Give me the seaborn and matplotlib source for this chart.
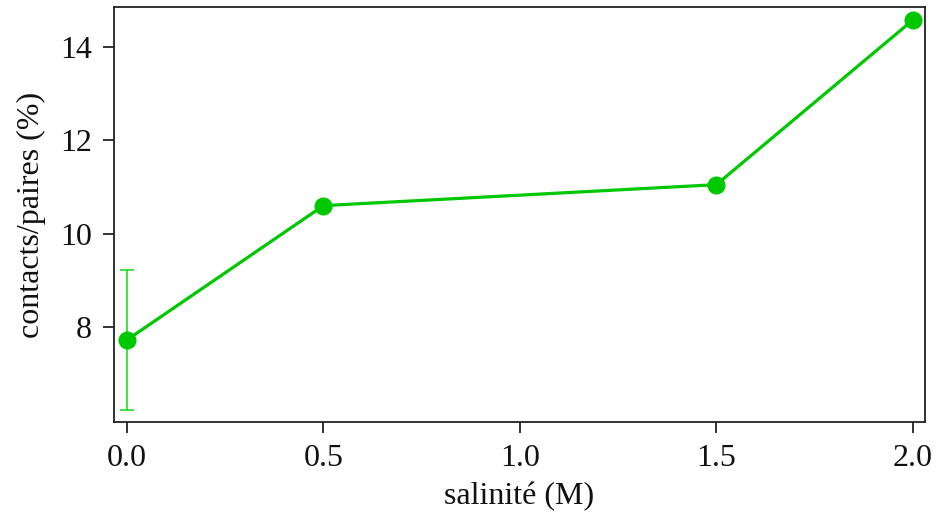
import matplotlib
matplotlib.use("Agg")
import matplotlib.pyplot as plt
import seaborn as sns
import pandas as pd
import numpy as np

salinity = [0.0, 0.5, 1.5, 2.0]
contacts = [7.72, 10.6, 11.05, 14.58]
errors = [1.5, np.nan, np.nan, np.nan]

sns.set_theme(style="white")
plt.rcParams["font.family"] = ["Liberation Serif", "DejaVu Serif"]

df = pd.DataFrame({"salinity": salinity, "contacts": contacts, "err": errors})

fig = plt.figure(figsize=(9.36, 5.22), dpi=100)
ax = fig.add_axes([114 / 936, 1 - 422 / 522, (925 - 114) / 936, (422 - 7) / 522])

green = "#00c800"
err_df = df.dropna(subset=["err"])
ax.errorbar(err_df["salinity"], err_df["contacts"], yerr=err_df["err"],
            fmt="none", ecolor="#22dd22", elinewidth=1.2, capsize=5, capthick=1.2, zorder=2)
sns.lineplot(data=df, x="salinity", y="contacts", ax=ax, color=green,
             linewidth=2.3, marker="o", markersize=13, markeredgewidth=0, zorder=3)

ax.set_xlim(-0.033, 2.031)
ax.set_ylim(5.96, 14.86)
ax.set_xticks([0.0, 0.5, 1.0, 1.5, 2.0])
ax.set_xticklabels(["0.0", "0.5", "1.0", "1.5", "2.0"])
ax.set_yticks([8, 10, 12, 14])
ax.set_yticklabels(["8", "10", "12", "14"])

for s in ax.spines.values():
    s.set_visible(True)
    s.set_color("#222222")
    s.set_linewidth(1.3)

ax.tick_params(axis="both", which="both", direction="out", length=8, width=1.3,
               color="#222222", labelsize=23, pad=8, left=True, bottom=True,
               top=False, right=False, labelcolor="#111111")
ax.set_xlabel("salinité (M)", fontsize=23, color="#111111", labelpad=6)
ax.set_ylabel("contacts/paires (%)", fontsize=23, color="#111111", labelpad=10)

fig.savefig("out.png", dpi=100)
